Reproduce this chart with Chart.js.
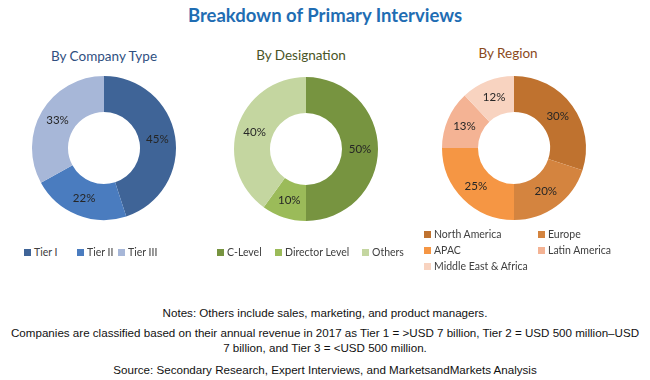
<!DOCTYPE html>
<html><head><meta charset="utf-8">
<script src="https://cdn.jsdelivr.net/npm/chart.js@4.4.1/dist/chart.umd.min.js"></script>
<style>
html,body{margin:0;padding:0;background:#fff;}
#wrap{position:relative;width:650px;height:380px;overflow:hidden;font-family:Lato,"Open Sans",sans-serif;}
.abs{position:absolute;white-space:nowrap;}
#title{left:0;width:650px;top:4px;text-align:center;font-weight:bold;font-size:18.5px;color:#1f6db3;}
.sub{font-size:13.5px;text-align:center;width:200px;}
canvas{position:absolute;}
.leg{font-size:10.5px;line-height:14px;color:#404040;display:flex;align-items:center;}
.leg i{display:inline-block;width:7px;height:7px;margin-right:3px;}
.note{left:0;width:650px;text-align:center;font-family:"Liberation Sans Narrow","Liberation Sans",sans-serif;font-size:11.6px;color:#111;}
</style></head>
<body><div id="wrap">
<div id="title" class="abs">Breakdown of Primary Interviews</div>
<div class="abs sub" style="left:4px;top:48px;color:#2f4f7f;">By Company Type</div>
<div class="abs sub" style="left:201px;top:47px;color:#4a5527;">By Designation</div>
<div class="abs sub" style="left:408px;top:45px;color:#8b4a1c;">By Region</div>
<canvas id="c1" width="160" height="160" style="left:24px;top:68px;"></canvas>
<canvas id="c2" width="160" height="160" style="left:226px;top:69px;"></canvas>
<canvas id="c3" width="160" height="160" style="left:434px;top:68px;"></canvas>
<div id="legends"></div>
<div class="abs note" style="top:306px;">Notes: Others include sales, marketing, and product managers.</div>
<div class="abs note" style="top:326px;">Companies are classified based on their annual revenue in 2017 as Tier 1 = &gt;USD 7 billion, Tier 2 = USD 500 million–USD</div>
<div class="abs note" style="top:341px;">7 billion, and Tier 3 = &lt;USD 500 million.</div>
<div class="abs note" style="top:363px;">Source: Secondary Research, Expert Interviews, and MarketsandMarkets Analysis</div>
</div>
<script>
const companyLabels = ["Tier I", "Tier II", "Tier III"];
const companyValues = [45, 22, 33];
const designationLabels = ["C-Level", "Director Level", "Others"];
const designationValues = [50, 10, 40];
const regionLabels = ["North America", "Europe", "APAC", "Latin America", "Middle East & Africa"];
const regionValues = [30, 20, 25, 13, 12];

const companyColors = ["#3f6497", "#4a7cbf", "#a7b7d8"];
const designationColors = ["#779440", "#9bbb59", "#c4d6a0"];
const regionColors = ["#bf722f", "#d4843f", "#f59644", "#f4b394", "#f8d3c0"];

const pctLabels = {
  id: 'pctLabels',
  afterDatasetsDraw(chart) {
    const ctx = chart.ctx;
    const meta = chart.getDatasetMeta(0);
    const data = chart.data.datasets[0].data;
    ctx.save();
    ctx.font = '11.5px Lato, "Open Sans", sans-serif';
    ctx.fillStyle = '#262626';
    ctx.textAlign = 'center';
    ctx.textBaseline = 'middle';
    meta.data.forEach((arc, i) => {
      const p = arc.tooltipPosition();
      ctx.fillText(data[i] + '%', p.x, p.y);
    });
    ctx.restore();
  }
};

function makeDonut(id, labels, values, colors) {
  new Chart(document.getElementById(id), {
    type: 'doughnut',
    data: { labels, datasets: [{ data: values, backgroundColor: colors, borderWidth: 0, hoverOffset: 0 }] },
    options: {
      responsive: false, animation: false, cutout: '50%',
      layout: { padding: 8 },
      plugins: { legend: { display: false }, tooltip: { enabled: false } }
    },
    plugins: [pctLabels]
  });
}
makeDonut('c1', companyLabels, companyValues, companyColors);
makeDonut('c2', designationLabels, designationValues, designationColors);
makeDonut('c3', regionLabels, regionValues, regionColors);

const legendPos = [
  { labels: companyLabels, colors: companyColors, pos: [[24,245],[77,245],[118,245]] },
  { labels: designationLabels, colors: designationColors, pos: [[217,245],[275,245],[362,245]] },
  { labels: regionLabels, colors: regionColors, pos: [[424,227],[538,227],[424,243],[538,243],[424,259]] }
];
const lg = document.getElementById('legends');
legendPos.forEach(g => g.labels.forEach((t, i) => {
  const d = document.createElement('div');
  d.className = 'abs leg';
  d.style.left = g.pos[i][0] + 'px';
  d.style.top = g.pos[i][1] + 'px';
  d.innerHTML = '<i style="background:' + g.colors[i] + '"></i>';
  d.appendChild(document.createTextNode(t));
  lg.appendChild(d);
}));
</script>
</body></html>
